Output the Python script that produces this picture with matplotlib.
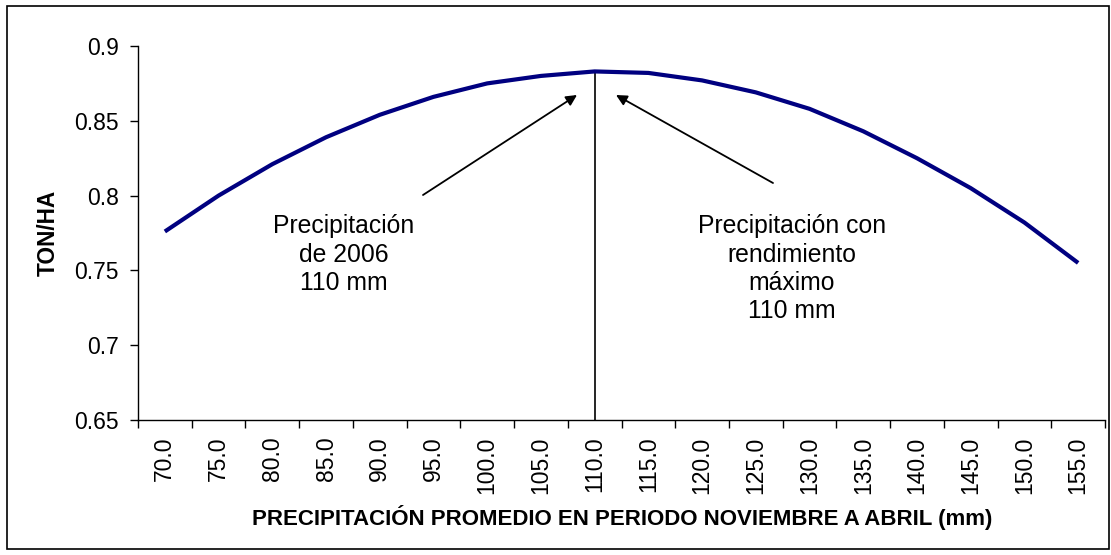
import matplotlib
matplotlib.use("Agg")
import matplotlib.pyplot as plt
from matplotlib.patches import Rectangle

plt.rcParams['font.family'] = ['Liberation Sans', 'DejaVu Sans']

categories = ["70.0", "75.0", "80.0", "85.0", "90.0", "95.0", "100.0", "105.0", "110.0",
              "115.0", "120.0", "125.0", "130.0", "135.0", "140.0", "145.0", "150.0", "155.0"]
yield_ton_ha = [0.776, 0.800, 0.821, 0.839, 0.854, 0.866, 0.875, 0.880, 0.883,
                0.882, 0.877, 0.869, 0.858, 0.843, 0.825, 0.805, 0.782, 0.755]
y_ticks = [0.65, 0.7, 0.75, 0.8, 0.85, 0.9]
y_tick_labels = ["0.65", "0.7", "0.75", "0.8", "0.85", "0.9"]
marker_category = "110.0"
left_lines = ["Precipitación", "de 2006", "110 mm"]
right_lines = ["Precipitación con", "rendimiento", "máximo", "110 mm"]
x_title = "PRECIPITACIÓN PROMEDIO EN PERIODO NOVIEMBRE A ABRIL (mm)"
y_title = "TON/HA"

W, H = 1111, 555
AX_L, AX_R, AX_T, AX_B = 138, 1105, 46, 420
fig = plt.figure(figsize=(W / 100, H / 100), dpi=100)
ax = fig.add_axes([AX_L / W, 1 - AX_B / H, (AX_R - AX_L) / W, (AX_B - AX_T) / H])


def fx(px):
    return px / W


def fy(py):
    return 1 - py / H


xs = list(range(len(categories)))
ax.plot(xs, yield_ton_ha, color="#000080", linewidth=3.0, solid_capstyle="butt",
        solid_joinstyle="round", zorder=3)

ax.set_xlim(-0.5, len(categories) - 0.5)
ax.set_ylim(0.65, 0.9)
ax.set_yticks(y_ticks)
ax.set_yticklabels(y_tick_labels, fontsize=16.5)
ax.set_xticks([i - 0.5 for i in range(len(categories) + 1)])
ax.set_xticklabels([])
ax.set_xticks(xs, minor=True)
ax.set_xticklabels(categories, minor=True, rotation=90, fontsize=16.5)
ax.tick_params(axis="x", which="major", direction="out", length=6, width=1, color="black")
ax.tick_params(axis="x", which="minor", length=0, pad=12)
ax.tick_params(axis="y", direction="out", length=6, width=1, pad=8)

for s in ["top", "right"]:
    ax.spines[s].set_visible(False)
for s in ["left", "bottom"]:
    ax.spines[s].set_linewidth(1.0)

# vertical marker line
mi = categories.index(marker_category)
ax.plot([mi, mi], [0.65, yield_ton_ha[mi]], color="black", linewidth=1.2, zorder=2)

# arrows
arrow_kw = dict(arrowstyle="-|>", color="black", lw=1.3, mutation_scale=16,
                shrinkA=0, shrinkB=0)
ax.annotate("", xy=(fx(577), fy(95)), xycoords="figure fraction",
            xytext=(fx(423), fy(195)), textcoords="figure fraction", arrowprops=arrow_kw)
ax.annotate("", xy=(fx(616), fy(95)), xycoords="figure fraction",
            xytext=(fx(773), fy(183)), textcoords="figure fraction", arrowprops=arrow_kw)

# annotation texts, one baseline per line
base0, step = 233, 28.5
for i, line in enumerate(left_lines):
    fig.text(fx(344), fy(base0 + i * step), line, ha="center", va="baseline", fontsize=17.8)
for i, line in enumerate(right_lines):
    fig.text(fx(792), fy(base0 + i * step), line, ha="center", va="baseline", fontsize=17.8)

fig.text(fx(622), fy(518), x_title, ha="center", va="center", fontsize=16,
         fontweight="bold")
fig.text(fx(48), fy(233), y_title, ha="center", va="center", fontsize=16.3,
         fontweight="bold", rotation=90)

# outer border
fig.patches.append(Rectangle((fx(7), fy(549)), (1109 - 7) / W, (549 - 6) / H,
                             transform=fig.transFigure, fill=False,
                             edgecolor="black", linewidth=1.2))

fig.savefig("out.png", dpi=100)
